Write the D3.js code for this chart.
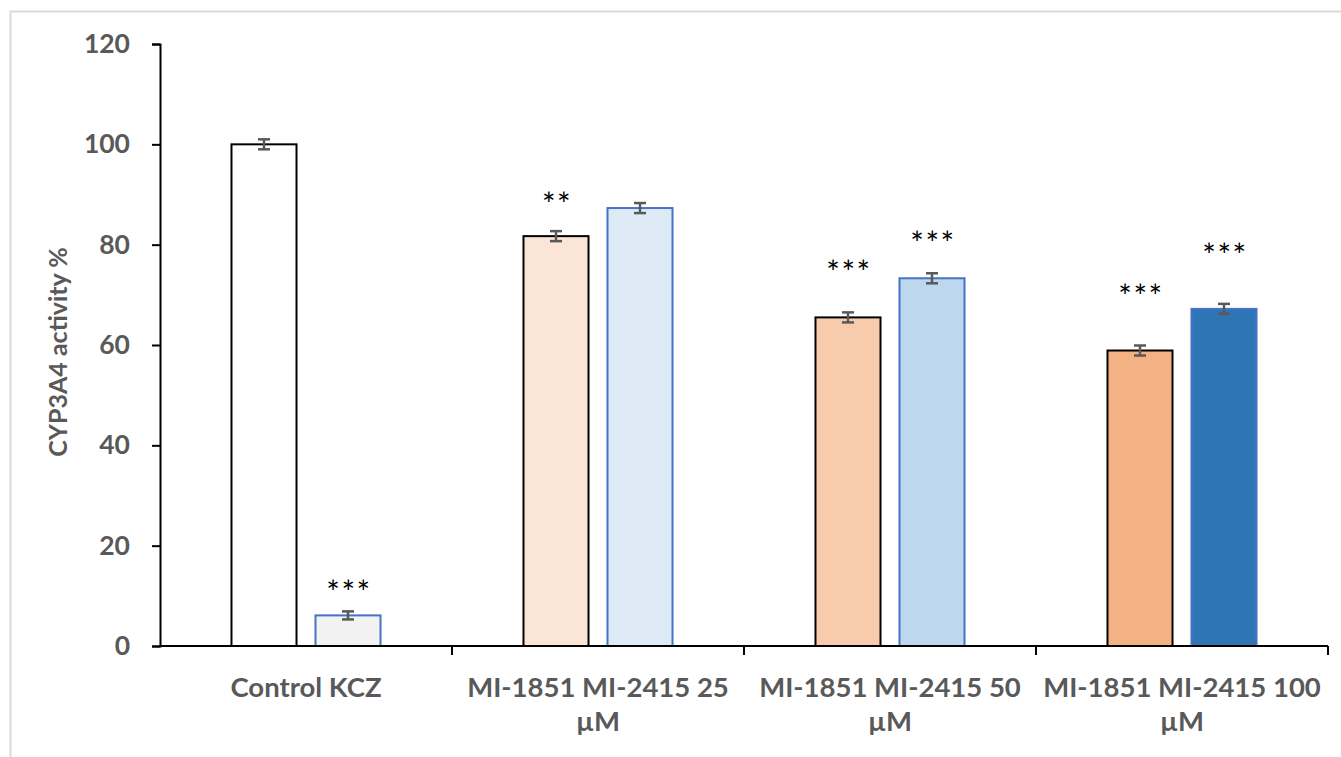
<!DOCTYPE html>
<html>
<head>
<meta charset="utf-8">
<script src="https://cdn.jsdelivr.net/npm/d3@7"></script>
<style>
  body { margin: 0; background: #fff; }
  text { font-family: Lato, "Open Sans", sans-serif; }
</style>
</head>
<body>
<svg id="chart" width="1341" height="757"></svg>
<script>
// categories (two lines each, as wrapped in the original)
var categories = ["g1", "g2", "g3", "g4"];
var catLabels = [["Control KCZ"], ["MI-1851 MI-2415 25", "µM"], ["MI-1851 MI-2415 50", "µM"], ["MI-1851 MI-2415 100", "µM"]];
var series = ["a", "b"];
// values per category: [first bar, second bar]
var values = [[100, 6.1], [81.7, 87.3], [65.5, 73.3], [58.9, 67.2]];
var errors = [[1.0, 0.8], [1.0, 1.0], [1.0, 1.0], [1.0, 1.0]];
// significance marks and the value level they sit at
var stars = [["", "***"], ["**", ""], ["***", "***"], ["***", "***"]];
var starLevel = [[0, 12.0], [89.5, 0], [75.9, 81.7], [71.0, 79.3]];
var fills = [["#ffffff", "#f2f2f2"], ["#fbe5d6", "#deebf7"], ["#f8cbad", "#bdd7ee"], ["#f4b183", "#2e75b6"]];
var strokes = ["#000000", "#4472c4"];
var yTicks = [0, 20, 40, 60, 80, 100, 120];

var svg = d3.select("#chart");
var margin = {left: 160, right: 13, top: 44, bottom: 111};
var width = 1341, height = 757;

// outer frame
svg.append("rect")
  .attr("x", 10.5).attr("y", 11.5)
  .attr("width", 1400).attr("height", 800)
  .attr("fill", "none").attr("stroke", "#d9d9d9").attr("stroke-width", 2);

var x = d3.scaleBand()
  .domain(categories)
  .range([margin.left, width - margin.right]);
var inner = d3.scaleBand()
  .domain(series)
  .range([0, x.bandwidth()])
  .paddingInner(0.226)
  .paddingOuter(0.851);
var y = d3.scaleLinear()
  .domain([0, 120])
  .range([height - margin.bottom, margin.top]);

var g = svg.append("g");

// bars
categories.forEach(function(c, ci) {
  series.forEach(function(s, si) {
    var bx = x(c) + inner(s);
    var v = values[ci][si];
    g.append("rect")
      .attr("x", bx)
      .attr("y", y(v))
      .attr("width", inner.bandwidth())
      .attr("height", y(0) - y(v))
      .attr("fill", fills[ci][si])
      .attr("stroke", strokes[si])
      .attr("stroke-width", 2);
    // error bar
    var cx = bx + inner.bandwidth() / 2;
    var e = errors[ci][si];
    g.append("line")
      .attr("x1", cx).attr("x2", cx)
      .attr("y1", y(v + e)).attr("y2", y(v - e))
      .attr("stroke", "#595959").attr("stroke-width", 2.5);
    [v + e, v - e].forEach(function(t) {
      g.append("line")
        .attr("x1", cx - 6).attr("x2", cx + 6)
        .attr("y1", y(t)).attr("y2", y(t))
        .attr("stroke", "#595959").attr("stroke-width", 2.5);
    });
    if (stars[ci][si]) {
      g.append("text")
        .attr("x", cx + 1)
        .attr("y", y(starLevel[ci][si]))
        .attr("dy", "0.58em")
        .attr("text-anchor", "middle")
        .attr("font-size", 32)
        .attr("letter-spacing", 1.5)
        .attr("font-family", "DejaVu Sans")
        .attr("fill", "#000")
        .text(stars[ci][si]);
    }
  });
});

// y axis
var yAxis = d3.axisLeft(y).tickValues(yTicks).tickSize(8).tickPadding(22);
var ya = svg.append("g")
  .attr("transform", "translate(" + margin.left + ",0)")
  .call(yAxis);
ya.select(".domain").attr("stroke", "#000").attr("stroke-width", 2);
ya.selectAll(".tick line").attr("stroke", "#000").attr("stroke-width", 2);
ya.selectAll(".tick text")
  .attr("font-size", 26.5).attr("font-weight", "bold")
  .attr("fill", "#595959").attr("font-family", "Lato, sans-serif");

// x axis: ticks at category boundaries
var xa = svg.append("g").attr("transform", "translate(0," + y(0) + ")");
xa.append("line")
  .attr("x1", margin.left).attr("x2", width - margin.right)
  .attr("stroke", "#000").attr("stroke-width", 2);
categories.forEach(function(c) {
  var bx = x(c) + x.bandwidth();
  xa.append("line")
    .attr("x1", bx).attr("x2", bx).attr("y1", 0).attr("y2", 9)
    .attr("stroke", "#000").attr("stroke-width", 2);
});
categories.forEach(function(c, ci) {
  var t = xa.append("text")
    .attr("x", x(c) + x.bandwidth() / 2)
    .attr("y", 51)
    .attr("text-anchor", "middle")
    .attr("font-size", 27.5).attr("font-weight", "bold")
    .attr("fill", "#595959");
  catLabels[ci].forEach(function(line, li) {
    t.append("tspan")
      .attr("x", x(c) + x.bandwidth() / 2)
      .attr("dy", li === 0 ? 0 : 34)
      .text(line);
  });
});

// y title
svg.append("text")
  .attr("transform", "translate(67,352) rotate(-90)")
  .attr("text-anchor", "middle")
  .attr("font-size", 25).attr("font-weight", "bold")
  .attr("fill", "#595959")
  .text("CYP3A4 activity %");
</script>
</body>
</html>
